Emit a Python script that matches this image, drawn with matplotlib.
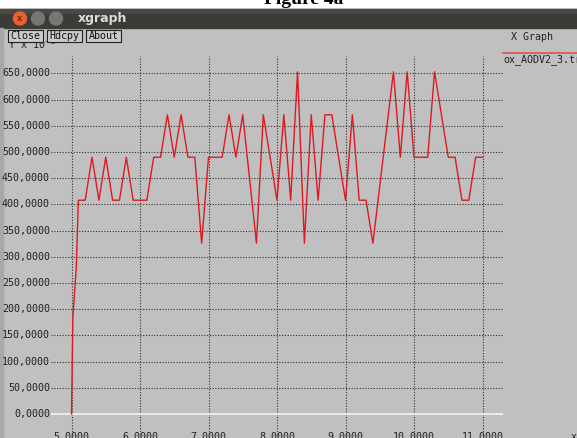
"""xgraph-skjermbilde (Figure 4a): gjennomstrømning over tid for ox_AODV2_3.tr."""

import matplotlib
matplotlib.use("Agg")
import matplotlib.pyplot as plt
import matplotlib.transforms as mtransforms
from matplotlib.patches import Rectangle, Circle

# ── Data ─────────────────────────────────────────────────────────────────────
tid = [5.0, 5.02, 5.07, 5.1, 5.2, 5.3, 5.4, 5.5, 5.6, 5.7, 5.8, 5.9, 6.0, 6.1,
       6.2, 6.3, 6.4, 6.5, 6.6, 6.7, 6.8, 6.9, 7.0, 7.1, 7.2, 7.3, 7.4, 7.5,
       7.7, 7.8, 8.0, 8.1, 8.2, 8.3, 8.4, 8.5, 8.6, 8.7, 8.8, 9.0, 9.1, 9.2,
       9.3, 9.4, 9.7, 9.8, 9.9, 10.0, 10.1, 10.2, 10.3, 10.5, 10.6, 10.7,
       10.8, 10.9, 11.0]
verdi = [0, 185, 280, 408, 408, 490, 408, 490, 408, 408, 490, 408, 408, 408,
         490, 490, 571, 490, 571, 490, 490, 326, 490, 490, 490, 571, 490, 571,
         326, 571, 408, 571, 408, 653, 326, 571, 408, 571, 571, 408, 571, 408,
         408, 326, 653, 490, 653, 490, 490, 490, 653, 490, 490, 408,
         408, 490, 490]

x_ticks = [5, 6, 7, 8, 9, 10, 11]
y_ticks = [0, 50, 100, 150, 200, 250, 300, 350, 400, 450, 500, 550, 600, 650]
x_labels = [f"{v:.4f}" for v in x_ticks]
y_labels = [f"{v:.4f}".replace(".", ",") for v in y_ticks]
knapper = ["Close", "Hdcpy", "About"]
serie_navn = "ox_AODV2_3.tr"

# ── Geometri i piksler (577 x 438) ───────────────────────────────────────────
W, H = 577, 438
PX_X5, PX_PER_X = 71.5, 68.5      # x=5 ved piksel 71.5
PX_Y0, PX_PER_50 = 414.0, 26.2    # y=0 ved piksel 414 (fra topp)
AX_L, AX_R, AX_T, AX_B = 51, 503, 56, 437

BG = "#c0c0c0"
MONO = "DejaVu Sans Mono"
FS = 7.2

fig = plt.figure(figsize=(W / 100, H / 100), dpi=100)
fig.patch.set_facecolor("white")

# Ramme/vindu i pikselkoordinater
chrome = fig.add_axes([0, 0, 1, 1])
chrome.set_xlim(0, W)
chrome.set_ylim(H, 0)
chrome.axis("off")

chrome.text(304, 4, "Figure 4a", family="Liberation Serif", weight="bold",
            fontsize=14, ha="center", va="baseline", zorder=1)
chrome.add_patch(Rectangle((0, 9), W, 19, color="#3c3b37", zorder=2))
chrome.add_patch(Rectangle((0, 9), W, 4, color="#4a4945", zorder=2))
for cx, farge in [(20, "#e8612c"), (38, "#77766f"), (56, "#77766f")]:
    chrome.add_patch(Circle((cx, 18.5), 6.5, color=farge, zorder=3))
chrome.text(20, 18.5, "x", color="#7a2a10", fontsize=6, weight="bold",
            ha="center", va="center", zorder=4)
chrome.text(78, 18.5, "xgraph", color="#dcdcdc", weight="bold", fontsize=9,
            ha="left", va="center", zorder=3)

chrome.add_patch(Rectangle((0, 28), W, H - 28, color=BG, zorder=1))
chrome.add_patch(Rectangle((0, 28), 3, H - 28, color="#a8a8a8", zorder=3))

# "Y x 10^" delvis skjult bak knappene
chrome.text(8, 44, r"Y x 10$^{-3}$", family=MONO, fontsize=FS, color="#202020",
            ha="left", va="center", zorder=2)

bx = 8
for navn in knapper:
    bredde = 5 + 6.0 * len(navn)
    chrome.add_patch(Rectangle((bx, 30), bredde, 12, facecolor="#cacaca",
                               edgecolor="#202020", linewidth=0.8, zorder=4))
    chrome.text(bx + bredde / 2, 36.3, navn, family=MONO, fontsize=FS,
                color="#101010", ha="center", va="center", zorder=5)
    bx += bredde + 4

chrome.text(511, 37, "X Graph", family=MONO, fontsize=FS, color="#202020",
            ha="left", va="center", zorder=2)
chrome.plot([503, W], [53, 53], color="#e05050", linewidth=1.2, zorder=2)
chrome.text(503, 60, serie_navn, family=MONO, fontsize=FS, color="#202020",
            ha="left", va="center", zorder=2)
chrome.text(571, 437, "x", family=MONO, fontsize=FS, color="#202020",
            ha="left", va="center", zorder=2)

# ── Plottområde ──────────────────────────────────────────────────────────────
ax = fig.add_axes([AX_L / W, 1 - AX_B / H, (AX_R - AX_L) / W, (AX_B - AX_T) / H])
ax.patch.set_alpha(0)
ax.axis("off")
ax.set_xlim(5 + (AX_L - PX_X5) / PX_PER_X, 5 + (AX_R - PX_X5) / PX_PER_X)
ax.set_ylim((PX_Y0 - AX_B) * 50 / PX_PER_50, (PX_Y0 - AX_T) * 50 / PX_PER_50)

for xv in x_ticks:
    ax.axvline(xv, color="#303030", linewidth=0.8, linestyle=(0, (1, 1.5)), zorder=1)
for yv in y_ticks[1:]:
    ax.axhline(yv, color="#303030", linewidth=0.8, linestyle=(0, (1, 1.5)), zorder=1)
ax.axhline(0, color="#ececec", linewidth=1.4, zorder=1)

ax.plot(tid, verdi, color="#e01820", linewidth=1.0, zorder=3)

# Akseetiketter
ytrans = mtransforms.blended_transform_factory(chrome.transData, ax.transData)
for yv, lab in zip(y_ticks, y_labels):
    ax.text(50, yv, lab, transform=ytrans, family=MONO, fontsize=FS,
            color="#202020", ha="right", va="center", clip_on=False)
xtrans = mtransforms.blended_transform_factory(ax.transData, chrome.transData)
for xv, lab in zip(x_ticks, x_labels):
    ax.text(xv, 432.5, lab, transform=xtrans, family=MONO, fontsize=FS,
            color="#202020", ha="center", va="top", clip_on=False)

fig.savefig("out.png", dpi=100, facecolor=fig.get_facecolor())
